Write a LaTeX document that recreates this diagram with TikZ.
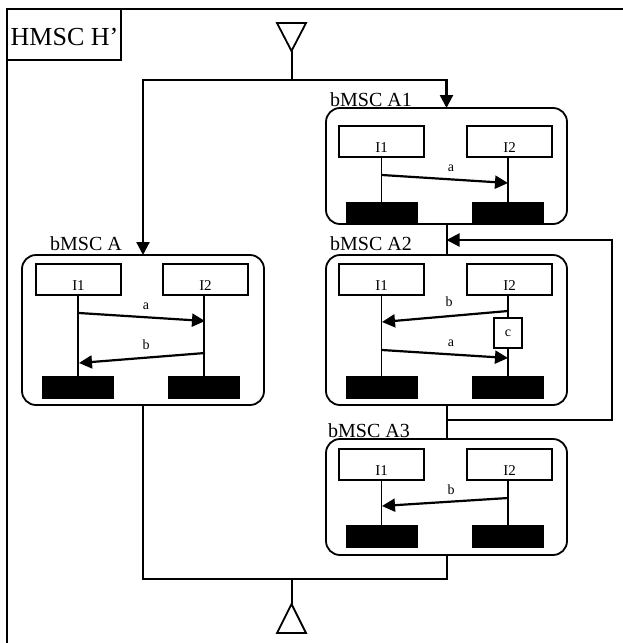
\documentclass[tikz,border=0pt]{standalone}
\usepackage{fontspec}
\setmainfont{Liberation Serif}
\usetikzlibrary{arrows.meta}
\tikzset{
  frame/.style={line width=2pt},
  mscbox/.style={draw, rectangle, rounded corners=14pt, line width=1.8pt, inner sep=0pt, outer sep=0pt},
  inst/.style={draw, rectangle, line width=1.6pt, minimum width=85pt, minimum height=31pt, inner sep=0pt, outer sep=0pt},
  endbar/.style={fill=black, draw=none, rectangle, minimum width=72pt, minimum height=23pt, inner sep=0pt, outer sep=0pt},
  life/.style={line width=1.6pt},
  msg/.style={line width=2.2pt, -{Triangle[length=13pt,width=13pt]}},
  flow/.style={line width=2pt},
  flowarr/.style={line width=2.2pt, -{Triangle[length=13pt,width=13pt]}},
  ilbl/.style={font=\fontsize{15}{17}\selectfont, inner sep=0pt, anchor=base},
  mlbl/.style={font=\fontsize{14}{16}\selectfont, inner sep=0pt, anchor=base},
  blbl/.style={font=\fontsize{20}{23}\selectfont, inner sep=0pt, anchor=base west},
  cond/.style={draw, rectangle, line width=1.6pt, minimum width=28pt, minimum height=30pt, inner sep=0pt, outer sep=0pt, font=\fontsize{14}{16}\selectfont},
}
\begin{document}
\begin{tikzpicture}[x=1pt,y=-1pt]
\useasboundingbox (0,0) rectangle (623,643);
% frame
\draw[frame] (623,8.5) -- (7,8.5) -- (7,643);
\node[draw, line width=2pt, rectangle, minimum width=114pt, minimum height=51.5pt, inner sep=0pt, outer sep=0pt] (hbox) at (64,34.25) {};
\node[font=\fontsize{26}{29}\selectfont, inner sep=0pt, anchor=base] (htitle) at (64.5,45) {HMSC H’};
% start triangle
\coordinate (startapex) at (291.5,51);
\draw[line width=1.8pt] (277,23) -- (306,23) -- (startapex) -- cycle;
\coordinate (split) at (291.5,80);
% end triangle
\coordinate (endapex) at (291.5,604);
\draw[line width=1.8pt] (277,633) -- (306,633) -- (endapex) -- cycle;
\coordinate (join) at (291.5,579);

% ===== bMSC A1 =====
\node[mscbox, minimum width=241pt, minimum height=116pt] (A1) at (446.5,166) {};
\node[blbl] (A1l) at (330,106) {bMSC A1};
\node[inst] (A1i1) at (381.5,141.5) {};
\node[inst] (A1i2) at (509.5,141.5) {};
\node[ilbl] (A1i1t) at (381.5,152) {I1};
\node[ilbl] (A1i2t) at (509.5,152) {I2};
\node[endbar] (A1e1) at (381.5,213) {};
\node[endbar] (A1e2) at (508,213) {};
\draw[life] (A1i1.south) -- (A1e1.north);
\draw[life] (A1i2.south -| A1e2.north) -- (A1e2.north);
\coordinate (A1as) at (382,175);
\coordinate (A1ae) at (508,183);
\draw[msg] (A1as) -- (A1ae);
\node[mlbl] (A1al) at (451,171) {a};

% ===== bMSC A2 =====
\node[mscbox, minimum width=241pt, minimum height=150pt] (A2) at (446.5,330) {};
\node[blbl] (A2l) at (330,250) {bMSC A2};
\node[inst] (A2i1) at (381.5,279.5) {};
\node[inst] (A2i2) at (509.5,279.5) {};
\node[ilbl] (A2i1t) at (381.5,290) {I1};
\node[ilbl] (A2i2t) at (509.5,290) {I2};
\node[endbar] (A2e1) at (381.5,387) {};
\node[endbar] (A2e2) at (508,387) {};
\node[cond] (A2c) at (508,333) {c};
\draw[life] (A2i2.south -| A2c.north) -- (A2c.north);
\draw[life] (A2c.south) -- (A2e2.north);
\draw[life] (A2i1.south) -- (A2e1.north);
\coordinate (A2bs) at (508,311);
\coordinate (A2be) at (382,322);
\draw[msg] (A2bs) -- (A2be);
\node[mlbl] (A2bl) at (449,306) {b};
\coordinate (A2as) at (382,350);
\coordinate (A2ae) at (508,358);
\draw[msg] (A2as) -- (A2ae);
\node[mlbl] (A2al) at (451,346) {a};

% ===== bMSC A3 =====
\node[mscbox, minimum width=241pt, minimum height=116pt] (A3) at (446.5,497) {};
\node[blbl] (A3l) at (328,437) {bMSC A3};
\node[inst] (A3i1) at (381.5,464.5) {};
\node[inst] (A3i2) at (509.5,464.5) {};
\node[ilbl] (A3i1t) at (381.5,475) {I1};
\node[ilbl] (A3i2t) at (509.5,475) {I2};
\node[endbar] (A3e1) at (381.5,536.5) {};
\node[endbar] (A3e2) at (508,536.5) {};
\draw[life] (A3i1.south) -- (A3e1.north);
\draw[life] (A3i2.south -| A3e2.north) -- (A3e2.north);
\coordinate (A3bs) at (508,498);
\coordinate (A3be) at (382,506);
\draw[msg] (A3bs) -- (A3be);
\node[mlbl] (A3bl) at (451,494) {b};

% ===== bMSC A =====
\node[mscbox, minimum width=242pt, minimum height=150pt] (A) at (143,330) {};
\node[blbl] (Al) at (50,250) {bMSC A};
\node[inst] (Ai1) at (78.5,279.5) {};
\node[inst] (Ai2) at (205.5,279.5) {};
\node[ilbl] (Ai1t) at (78.5,290) {I1};
\node[ilbl] (Ai2t) at (205.5,290) {I2};
\node[endbar] (Ae1) at (78,387.5) {};
\node[endbar] (Ae2) at (204,387.5) {};
\draw[life] (Ai1.south -| Ae1.north) -- (Ae1.north);
\draw[life] (Ai2.south -| Ae2.north) -- (Ae2.north);
\coordinate (Aas) at (79,313);
\coordinate (Aae) at (205,321);
\draw[msg] (Aas) -- (Aae);
\node[mlbl] (Aal) at (146,309) {a};
\coordinate (Abs) at (205,353);
\coordinate (Abe) at (79,363);
\draw[msg] (Abs) -- (Abe);
\node[mlbl] (Abl) at (146,349) {b};

% ===== flow =====
\draw[flow] (startapex) -- (split);
\draw[flowarr] (split) -| (A.north);
\draw[flowarr] (split) -| (A1.north);
\draw[flow] (A1.south) -- (A2.north);
\draw[flow] (A2.south) -- (A3.north);
\coordinate (loopin) at (446.5,240);
\coordinate (loopout) at (446.5,420);
\coordinate (loopright) at (612,420);
\draw[flowarr] (loopout) -- (loopright) |- (loopin);
\draw[flow] (A.south) |- (join);
\draw[flow] (A3.south) |- (join);
\draw[flow] (join) -- (endapex);
\end{tikzpicture}
\end{document}
